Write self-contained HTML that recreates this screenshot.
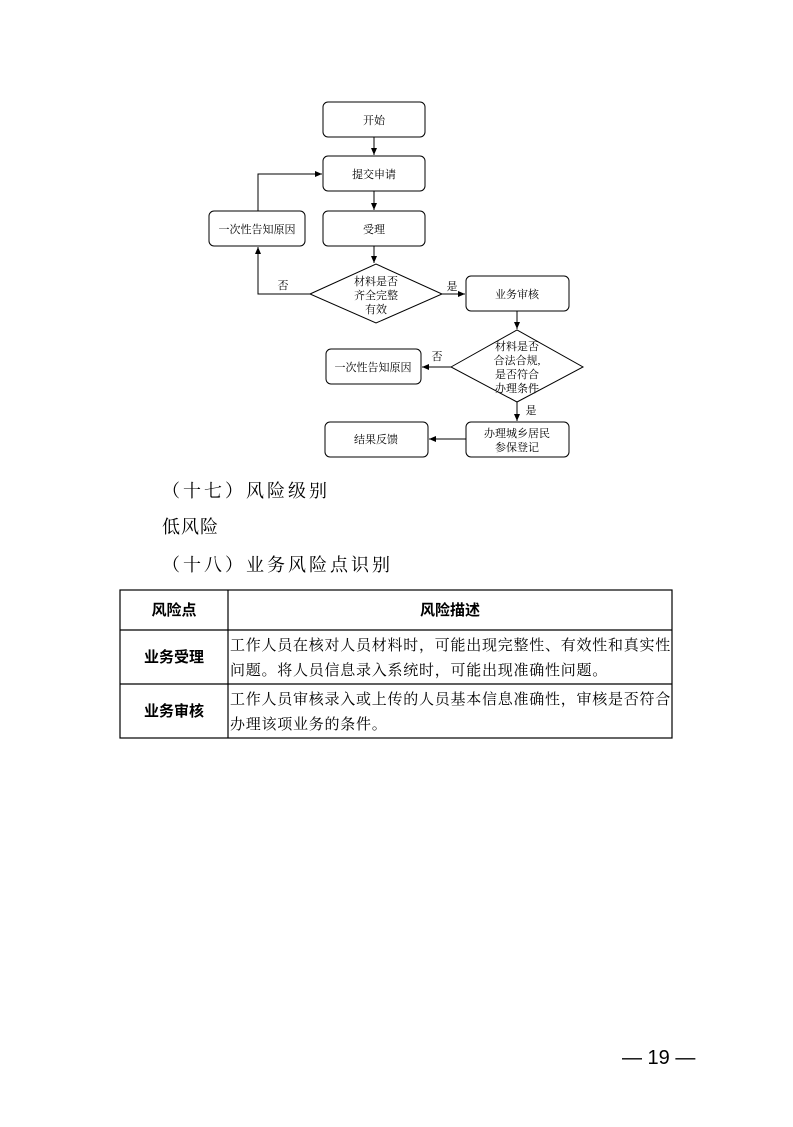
<!DOCTYPE html>
<html><head><meta charset="utf-8"><style>
html,body{margin:0;padding:0;background:#fff}
svg text{font-family:"Liberation Serif","Noto Serif CJK SC",serif;fill:#000}
.s{font-family:"Liberation Sans","Noto Sans CJK SC",sans-serif}
</style></head><body>
<svg width="793" height="1122" viewBox="0 0 793 1122" xmlns="http://www.w3.org/2000/svg">
<defs><marker id="a" markerWidth="8" markerHeight="8" refX="7" refY="4" orient="auto" markerUnits="userSpaceOnUse"><path d="M0,1 L7,4 L0,7 z" fill="#000"/></marker></defs>
<g fill="none" stroke="#000" stroke-width="1">
<rect x="323" y="102" width="102" height="35" rx="5"/>
<rect x="323" y="156" width="102" height="35" rx="5"/>
<rect x="323" y="211" width="102" height="35" rx="5"/>
<rect x="209" y="211" width="96" height="35" rx="5"/>
<polygon points="310,294 376,264 442,294 376,323"/>
<rect x="466" y="276" width="103" height="35" rx="5"/>
<polygon points="451,367 517,330 583,367 517,402"/>
<rect x="326" y="349" width="95" height="35" rx="5"/>
<rect x="466" y="422" width="103" height="35" rx="5"/>
<rect x="325" y="422" width="103" height="35" rx="5"/>
<g marker-end="url(#a)">
<line x1="374" y1="137" x2="374" y2="155"/>
<line x1="374" y1="191" x2="374" y2="210"/>
<line x1="374" y1="246" x2="374" y2="263"/>
<polyline points="310,294 258,294 258,247"/>
<polyline points="258,211 258,174 322,174"/>
<line x1="442" y1="294" x2="465" y2="294"/>
<line x1="517" y1="311" x2="517" y2="329"/>
<line x1="451" y1="367" x2="422" y2="367"/>
<line x1="517" y1="402" x2="517" y2="421"/>
<line x1="466" y1="439" x2="429" y2="439"/>
</g>
</g>
<g font-size="11" text-anchor="middle">
<text x="374" y="124">开始</text>
<text x="374" y="178">提交申请</text>
<text x="374" y="233">受理</text>
<text x="257" y="233">一次性告知原因</text>
<text x="376" y="285">材料是否</text>
<text x="376" y="299">齐全完整</text>
<text x="376" y="313">有效</text>
<text x="517" y="298">业务审核</text>
<text x="517" y="350">材料是否</text>
<text x="517" y="364">合法合规,</text>
<text x="517" y="378">是否符合</text>
<text x="517" y="392">办理条件</text>
<text x="373" y="371">一次性告知原因</text>
<text x="517" y="437">办理城乡居民</text>
<text x="517" y="451">参保登记</text>
<text x="376" y="443">结果反馈</text>
<text x="283" y="289">否</text>
<text x="452" y="290">是</text>
<text x="437" y="360">否</text>
<text x="531" y="414">是</text>
</g>
<g font-size="18" letter-spacing="3">
<text x="162" y="497">（十七）风险级别</text>
<text x="162" y="533" letter-spacing="1">低风险</text>
<text x="162" y="571">（十八）业务风险点识别</text>
</g>
<g fill="none" stroke="#000" stroke-width="1.2">
<rect x="120" y="590" width="552" height="148"/>
<line x1="120" y1="630" x2="672" y2="630"/>
<line x1="120" y1="684" x2="672" y2="684"/>
<line x1="228" y1="590" x2="228" y2="738"/>
</g>
<g font-size="15" class="s" font-weight="bold" text-anchor="middle">
<text class="s" x="174" y="615">风险点</text>
<text class="s" x="450" y="615">风险描述</text>
<text class="s" x="174" y="662">业务受理</text>
<text class="s" x="174" y="716">业务审核</text>
</g>
<g font-size="15" letter-spacing="0.75">
<text x="230" y="650">工作人员在核对人员材料时，可能出现完整性、有效性和真实性</text>
<text x="230" y="675">问题。将人员信息录入系统时，可能出现准确性问题。</text>
<text x="230" y="704">工作人员审核录入或上传的人员基本信息准确性，审核是否符合</text>
<text x="230" y="729">办理该项业务的条件。</text>
</g>
<text class="s" x="622" y="1064" font-size="20">— 19 —</text>
</svg>
</body></html>
